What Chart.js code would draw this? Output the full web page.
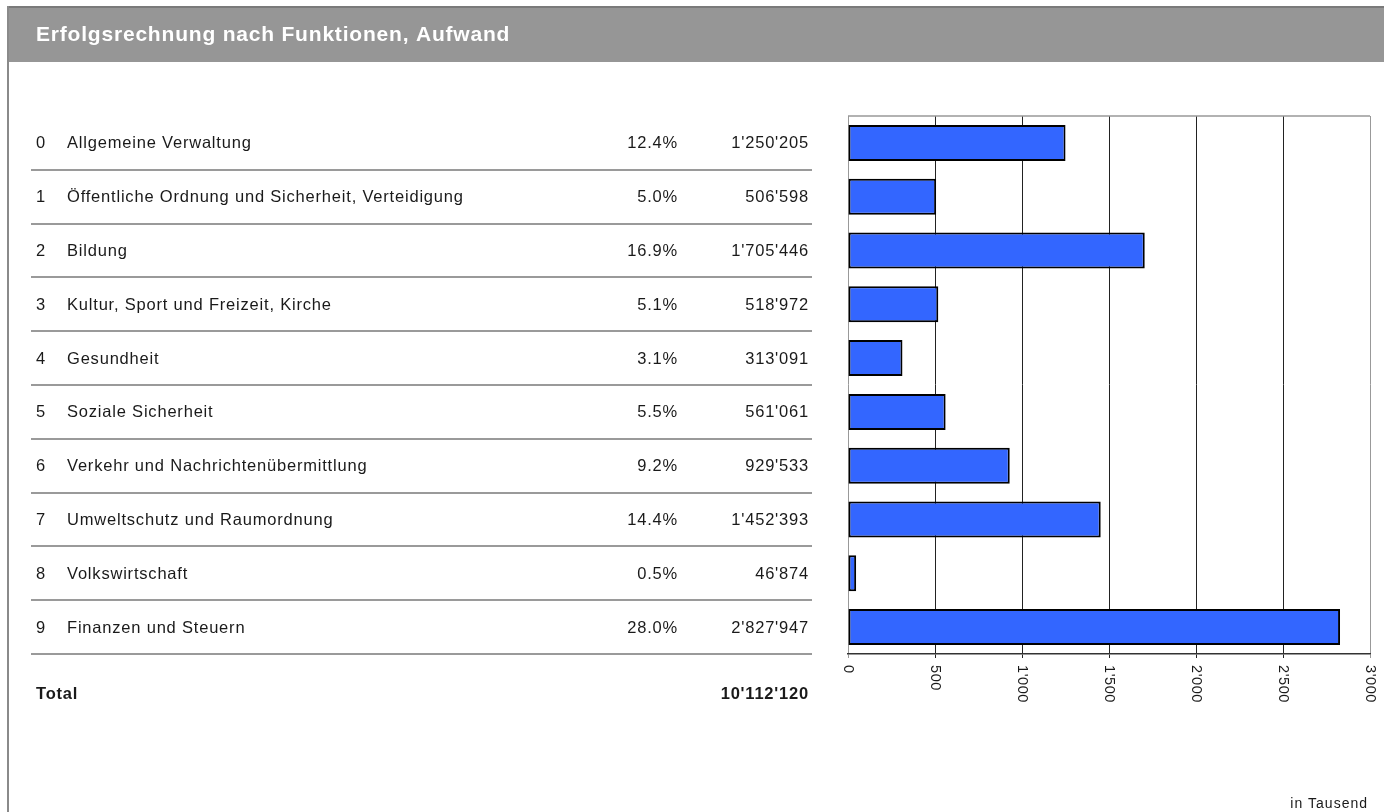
<!DOCTYPE html>
<html>
<head>
<meta charset="utf-8">
<script src="https://cdn.jsdelivr.net/npm/chart.js@4/dist/chart.umd.min.js"></script>
<style>
html,body{margin:0;padding:0;background:#fff;}
canvas{display:block;}
</style>
</head>
<body>
<canvas id="c" width="1384" height="812"></canvas>
<script>
// ---- data ----
const title = 'Erfolgsrechnung nach Funktionen, Aufwand';
const codes = ['0','1','2','3','4','5','6','7','8','9'];
const categories = [
  'Allgemeine Verwaltung',
  'Öffentliche Ordnung und Sicherheit, Verteidigung',
  'Bildung',
  'Kultur, Sport und Freizeit, Kirche',
  'Gesundheit',
  'Soziale Sicherheit',
  'Verkehr und Nachrichtenübermittlung',
  'Umweltschutz und Raumordnung',
  'Volkswirtschaft',
  'Finanzen und Steuern'
];
const percents = ['12.4%','5.0%','16.9%','5.1%','3.1%','5.5%','9.2%','14.4%','0.5%','28.0%'];
const amounts = [1250205, 506598, 1705446, 518972, 313091, 561061, 929533, 1452393, 46874, 2827947];
const totalLabel = 'Total';
const totalAmount = 10112120;
const tickLabels = ['0', "500", "1'000", "1'500", "2'000", "2'500", "3'000"];
const unitNote = 'in Tausend';

// values in thousands for the bars
const barValues = amounts.map(v => v / 1000);

function fmt(n){
  return String(n).replace(/\B(?=(\d{3})+(?!\d))/g, "'");
}

const FONT = "'Liberation Sans', Arial, sans-serif";
const W = 1384, H = 812;

const layoutPlugin = {
  id: 'layoutPlugin',
  beforeDraw(chart){
    const ctx = chart.ctx;
    ctx.save();
    ctx.fillStyle = '#ffffff';
    ctx.fillRect(0,0,W,H);
    // header band
    ctx.fillStyle = '#969696';
    ctx.fillRect(7,7,W-7,55);
    ctx.fillStyle = '#7a7a7a';
    ctx.fillRect(7,6,W-7,2);
    ctx.fillStyle = '#8a8a8a';
    ctx.fillRect(7,6,2,H-6);
    // title
    ctx.fillStyle = '#ffffff';
    ctx.font = 'bold 21px ' + FONT;
    ctx.letterSpacing = '0.8px';
    ctx.textAlign = 'left';
    ctx.textBaseline = 'alphabetic';
    ctx.fillText(title, 36, 41);

    // table rows
    const y = chart.scales.y;
    const step = (y.bottom - y.top) / categories.length;
    ctx.fillStyle = '#1a1a1a';
    ctx.font = '16.5px ' + FONT;
    ctx.letterSpacing = '0.8px';
    categories.forEach((cat, i) => {
      const cy = y.getPixelForValue(i);
      const base = cy + 5.5;
      ctx.textAlign = 'left';
      ctx.fillText(codes[i], 36, base);
      ctx.fillText(cat, 67, base);
      ctx.textAlign = 'right';
      ctx.fillText(percents[i], 678, base);
      ctx.fillText(fmt(amounts[i]), 809, base);
      // separator
      ctx.fillStyle = '#9a9a9a';
      ctx.fillRect(31, Math.round(cy + step/2) - 1, 781, 2);
      ctx.fillStyle = '#1a1a1a';
    });
    // total
    ctx.font = 'bold 16.5px ' + FONT;
    ctx.textAlign = 'left';
    ctx.fillText(totalLabel, 36, 699);
    ctx.textAlign = 'right';
    ctx.fillText(fmt(totalAmount), 809, 699);

    // unit note
    ctx.font = '14px ' + FONT;
    ctx.letterSpacing = '1px';
    ctx.textAlign = 'right';
    ctx.fillStyle = '#1a1a1a';
    ctx.fillText(unitNote, 1368, 808);
    ctx.restore();
  },
  afterDraw(chart){
    const ctx = chart.ctx;
    const a = chart.chartArea;
    const x = chart.scales.x;
    ctx.save();
    // top border of plot
    ctx.strokeStyle = '#999999';
    ctx.lineWidth = 1.5;
    ctx.beginPath();
    ctx.moveTo(a.left, a.top);
    ctx.lineTo(a.right, a.top);
    ctx.stroke();
    // rotated tick labels
    ctx.fillStyle = '#1a1a1a';
    ctx.font = '14.5px ' + FONT;
    ctx.letterSpacing = '0.6px';
    ctx.textAlign = 'left';
    ctx.textBaseline = 'middle';
    x.ticks.forEach((t, i) => {
      const px = x.getPixelForValue(t.value);
      ctx.save();
      ctx.translate(px, a.bottom + 11);
      ctx.rotate(Math.PI / 2);
      ctx.fillText(tickLabels[i] !== undefined ? tickLabels[i] : fmt(t.value), 0, 0);
      ctx.restore();
    });
    ctx.restore();
  }
};

const gridCol = (c) => {
  const v = c.tick ? c.tick.value : null;
  return (v === 0 || v === 3000) ? '#999999' : '#222222';
};

new Chart(document.getElementById('c'), {
  type: 'bar',
  data: {
    labels: categories,
    datasets: [{
      data: barValues,
      backgroundColor: '#3366ff',
      borderColor: '#000000',
      borderWidth: 2,
      borderSkipped: false,
      categoryPercentage: 1,
      barPercentage: 0.67
    }]
  },
  options: {
    indexAxis: 'y',
    responsive: false,
    animation: false,
    devicePixelRatio: 1,
    layout: { padding: { left: 848, right: 14, top: 116, bottom: 154 } },
    plugins: {
      legend: { display: false },
      tooltip: { enabled: false },
      title: { display: false }
    },
    scales: {
      x: {
        type: 'linear',
        min: 0,
        max: 3000,
        ticks: { display: false, stepSize: 500 },
        grid: {
          color: gridCol,
          tickColor: gridCol,
          lineWidth: 1,
          drawTicks: true,
          tickLength: 4
        },
        border: { color: '#333333', width: 1.5 }
      },
      y: {
        display: false
      }
    }
  },
  plugins: [layoutPlugin]
});
</script>
</body>
</html>
